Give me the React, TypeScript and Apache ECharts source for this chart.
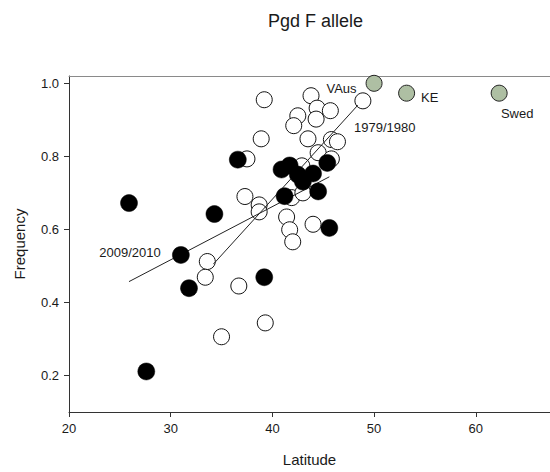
import React, { useEffect, useRef } from "react";
import * as echarts from "echarts";

const titleText = "Pgd F allele";
const xTickLabels = [20, 30, 40, 50, 60];
const yTickValues = [0.2, 0.4, 0.6, 0.8, 1.0];

// 1979/1980 samples (open circles)
const openPoints: [number, number][] = [
  [39.2, 0.955], [43.8, 0.966], [42.5, 0.911], [42.1, 0.884], [44.4, 0.932],
  [45.7, 0.925], [44.3, 0.902], [38.9, 0.848], [43.5, 0.848], [45.8, 0.846],
  [46.4, 0.84], [48.9, 0.952], [44.5, 0.81], [45.8, 0.793], [37.5, 0.793],
  [42.9, 0.774], [37.3, 0.69], [38.7, 0.667], [38.7, 0.648], [41.9, 0.687],
  [43.0, 0.7], [41.4, 0.634], [41.7, 0.599], [42.0, 0.566], [44.0, 0.614],
  [33.6, 0.512], [33.4, 0.469], [36.7, 0.445], [39.3, 0.344], [35.0, 0.306],
];

// 2009/2010 samples (filled circles)
const filledPoints: [number, number][] = [
  [25.9, 0.672], [27.6, 0.211], [31.0, 0.53], [31.8, 0.439], [34.3, 0.642],
  [36.6, 0.791], [39.2, 0.469], [40.9, 0.764], [41.7, 0.775], [42.5, 0.75],
  [43.0, 0.731], [44.0, 0.753], [45.4, 0.782], [44.5, 0.704], [41.2, 0.691],
  [45.6, 0.604],
];

// Reference populations
const refNames = ["VAus", "KE", "Swed"];
const refPoints: [number, number][] = [[50.0, 1.0], [53.2, 0.973], [62.3, 0.973]];

// Regression lines
const line7980: [number, number][] = [[34.2, 0.505], [48.4, 0.94]];
const line0910: [number, number][] = [[25.9, 0.457], [45.6, 0.744]];

const FONT = "Liberation Sans, Arial, Helvetica, sans-serif";
const TXT = "#1a1a1a";

export default function App() {
  const ref = useRef<HTMLDivElement>(null);
  useEffect(() => {
    if (!ref.current) return;
    const chart = echarts.init(ref.current, null, { renderer: "svg" });
    const refLabels: any[] = [
      { position: "left", distance: 5, offset: [-4, 5] },
      { position: "right", distance: 6, offset: [0, 4] },
      { position: "bottom", distance: 5, offset: [18, 0] },
    ];
    chart.setOption({
      animation: false,
      backgroundColor: "#ffffff",
      textStyle: { fontFamily: FONT },
      title: {
        text: titleText,
        left: 263,
        top: 7,
        textStyle: { fontFamily: FONT, fontSize: 18, fontWeight: "normal", color: TXT },
      },
      grid: { left: 69, right: 0, top: 76, bottom: 58 },
      xAxis: [
        {
          type: "value",
          min: 20,
          max: 67.3,
          interval: 10,
          name: "Latitude",
          nameLocation: "middle",
          nameGap: 40,
          nameTextStyle: { fontFamily: FONT, fontSize: 15, color: TXT },
          axisLine: { show: true, lineStyle: { color: "#333", width: 1 } },
          axisTick: { show: true, length: 5, inside: false, lineStyle: { color: "#333" } },
          axisLabel: {
            margin: 10,
            fontFamily: FONT,
            fontSize: 13,
            color: TXT,
            showMaxLabel: false,
            formatter: (v: number) => (xTickLabels.includes(v) ? String(v) : ""),
          },
          splitLine: { show: false },
        },
        {
          type: "value",
          position: "top",
          min: 20,
          max: 67.3,
          axisLine: { show: true, lineStyle: { color: "#8a8a8a", width: 1 } },
          axisTick: { show: false },
          axisLabel: { show: false },
          splitLine: { show: false },
        },
      ],
      yAxis: {
        type: "value",
        min: 0.1,
        max: 1.02,
        name: "Frequency",
        nameLocation: "middle",
        nameGap: 42,
        nameTextStyle: { fontFamily: FONT, fontSize: 15, color: TXT },
        axisLine: { show: true, lineStyle: { color: "#333", width: 1 } },
        axisTick: { show: true, length: 5, customValues: yTickValues, lineStyle: { color: "#333" } },
        axisLabel: {
          margin: 10,
          fontFamily: FONT,
          fontSize: 13,
          color: TXT,
          customValues: yTickValues,
          formatter: (v: number) => v.toFixed(1),
        },
        splitLine: { show: false },
      },
      series: [
        {
          type: "scatter",
          name: "1979/1980",
          data: openPoints,
          symbol: "circle",
          symbolSize: 16,
          itemStyle: { color: "#ffffff", borderColor: "#111", borderWidth: 1, opacity: 1 },
          z: 2,
        },
        {
          type: "line",
          name: "fit1979",
          data: line7980.map((p, i) => ({
            value: p,
            label:
              i === line7980.length - 1
                ? { show: true, formatter: "1979/1980", position: "inside", offset: [27, 22], fontSize: 13, color: TXT, fontFamily: FONT }
                : { show: false },
          })),
          showSymbol: true,
          symbol: "circle",
          symbolSize: 0,
          lineStyle: { color: "#222", width: 1 },
          itemStyle: { color: "#222" },
          z: 3,
        },
        {
          type: "line",
          name: "fit2009",
          data: line0910.map((p, i) => ({
            value: p,
            label:
              i === 0
                ? { show: true, formatter: "2009/2010", position: "inside", offset: [1, -29], fontSize: 13, color: TXT, fontFamily: FONT }
                : { show: false },
          })),
          showSymbol: true,
          symbol: "circle",
          symbolSize: 0,
          lineStyle: { color: "#222", width: 1 },
          itemStyle: { color: "#222" },
          z: 3,
        },
        {
          type: "scatter",
          name: "2009/2010",
          data: filledPoints,
          symbol: "circle",
          symbolSize: 17,
          itemStyle: { color: "#000000", borderColor: "#000", borderWidth: 0.5, opacity: 1 },
          z: 4,
        },
        {
          type: "scatter",
          name: "reference",
          data: refPoints.map((p, i) => ({
            value: p,
            name: refNames[i],
            label: {
              show: true,
              formatter: refNames[i],
              fontSize: 13,
              color: TXT,
              fontFamily: FONT,
              ...refLabels[i],
            },
          })),
          symbol: "circle",
          symbolSize: 16,
          itemStyle: { color: "#aebfa3", borderColor: "#222", borderWidth: 1, opacity: 1 },
          z: 5,
        },
      ],
    });
    return () => chart.dispose();
  }, []);
  return <div ref={ref} style={{ width: 550, height: 472, position: "absolute", left: 0, top: 0 }} />;
}
